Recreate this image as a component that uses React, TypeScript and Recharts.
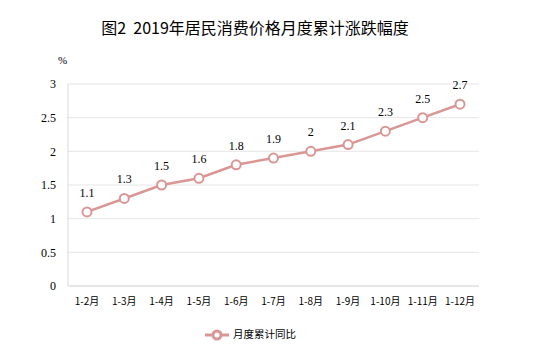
import React from "react";
import { LineChart, Line, XAxis, YAxis, CartesianGrid, Legend, LabelList } from "recharts";

const categories = ["1-2月", "1-3月", "1-4月", "1-5月", "1-6月", "1-7月", "1-8月", "1-9月", "1-10月", "1-11月", "1-12月"];
const values = [1.1, 1.3, 1.5, 1.6, 1.8, 1.9, 2, 2.1, 2.3, 2.5, 2.7];
const yTicks = [0, 0.5, 1, 1.5, 2, 2.5, 3];
const seriesName = "月度累计同比";
const title = "图2  2019年居民消费价格月度累计涨跌幅度";

const data = categories.map((c, i) => ({ name: c, value: values[i] }));
const COLOR = "#D99694";

export default function App() {
  return (
    <div style={{ position: "absolute", left: 0, top: 0, width: 533, height: 357, background: "#fff" }}>
      <div style={{ position: "absolute", left: 0, top: 17, width: 510, textAlign: "center", whiteSpace: "pre", fontFamily: "'Noto Sans CJK SC', sans-serif", fontSize: 16, color: "#000", lineHeight: "20px" }}>
        {title}
      </div>
      <div style={{ position: "absolute", left: 58, top: 54, fontFamily: "'Liberation Serif', serif", fontSize: 11, color: "#000" }}>%</div>
      <LineChart width={533} height={357} data={data} margin={{ top: 84, right: 54, left: 0, bottom: 17 }}>
        <CartesianGrid vertical={false} stroke="#e6e6e6" />
        <XAxis dataKey="name" axisLine={{ stroke: "#d9d9d9" }} tickLine={false} interval={0} padding={{ left: 19, right: 19 }}
          tick={{ fontFamily: "'Noto Sans CJK SC', sans-serif", fontSize: 10, fill: "#000" }} tickMargin={6} />
        <YAxis width={68} domain={[0, 3]} ticks={yTicks} axisLine={{ stroke: "#d9d9d9" }} tickLine={false}
          tick={{ fontFamily: "'Liberation Serif', serif", fontSize: 12, fill: "#000" }} tickMargin={6} />
        <Legend verticalAlign="bottom" iconSize={24}
          wrapperStyle={{ fontFamily: "'Noto Sans CJK SC', sans-serif", fontSize: 10.5, color: "#000", bottom: 10, left: 16 }}
          formatter={(v) => <span style={{ color: "#000" }}>{v}</span>} />
        <Line type="linear" dataKey="value" name={seriesName} stroke={COLOR} strokeWidth={2.5}
          dot={{ r: 4.5, fill: "#fff", stroke: COLOR, strokeWidth: 2 }} isAnimationActive={false}>
          <LabelList dataKey="value" position="top" offset={15}
            style={{ fontFamily: "'Liberation Serif', serif", fontSize: 12, fill: "#000" }} />
        </Line>
      </LineChart>
    </div>
  );
}
